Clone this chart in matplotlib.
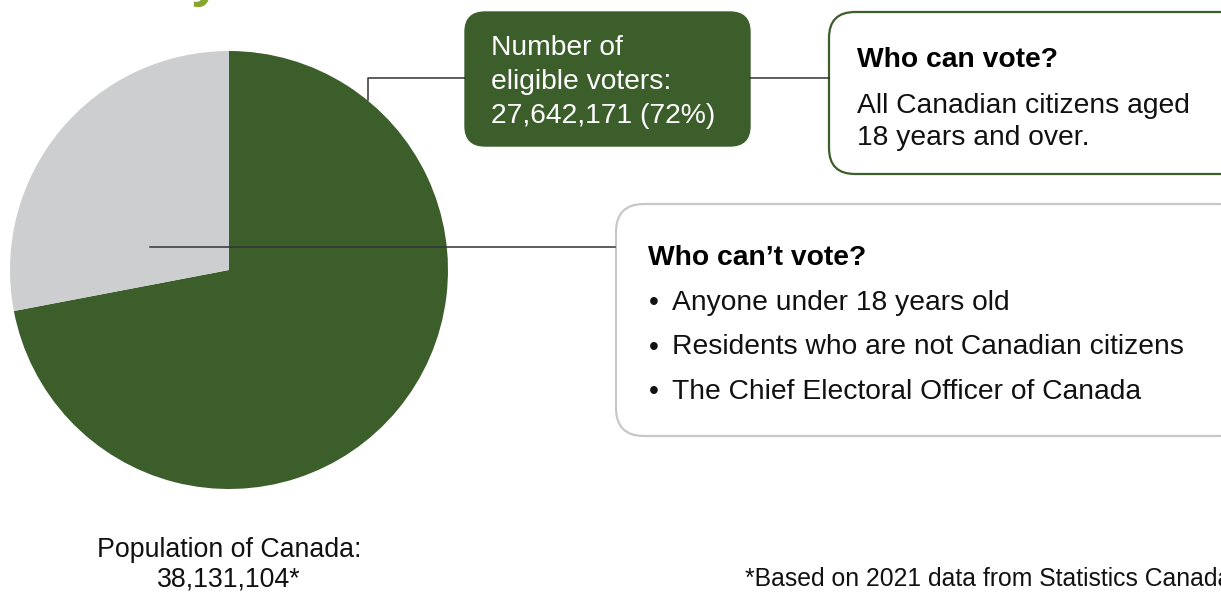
import matplotlib.pyplot as plt
from matplotlib.patches import FancyBboxPatch

plt.rcParams['font.family'] = ['Liberation Sans', 'DejaVu Sans']

# data
population = 38131104
eligible_voters = 27642171
eligible_pct = 72
pie_values = [eligible_pct, 100 - eligible_pct]
pie_colors = ['#3b5e2b', '#cdcecf']

eligible_lines = ['Number of', 'eligible voters:', '27,642,171 (72%)']
can_vote_title = 'Who can vote?'
can_vote_lines = ['All Canadian citizens aged', '18 years and over.']
cant_vote_title = 'Who can\u2019t vote?'
cant_vote_items = ['Anyone under 18 years old',
                   'Residents who are not Canadian citizens',
                   'The Chief Electoral Officer of Canada']
population_lines = ['Population of Canada:', '38,131,104*']
footnote = '*Based on 2021 data from Statistics Canada'

W, H = 1221, 592
DARK = '#3b5e2b'
FS = 20.3

fig = plt.figure(figsize=(W / 100, H / 100), dpi=100)
ax = fig.add_axes([0, 0, 1, 1])


def Y(y):
    # pixel row (from top) -> data y
    return H - y


ax.pie(pie_values, colors=pie_colors, startangle=90, counterclock=False,
       center=(229, Y(270)), radius=219, wedgeprops=dict(linewidth=0))
ax.set_xlim(0, W)
ax.set_ylim(0, H)
ax.axis('off')

# cut-off heading letter at the very top
ax.text(206, Y(-5), 'y', color='#86a62e', fontsize=40, fontweight='bold',
        ha='center', va='baseline')

# connector lines
lc = '#333333'
ax.plot([150, 615], [Y(247), Y(247)], color=lc, lw=1.1, zorder=3)
ax.plot([368, 368, 465], [Y(100), Y(78), Y(78)], color=lc, lw=1.1, zorder=3)
ax.plot([750, 829], [Y(78), Y(78)], color=lc, lw=1.1, zorder=3)

# green box
ax.add_patch(FancyBboxPatch((465, Y(146)), 285, 134,
                            boxstyle='round,pad=0,rounding_size=20',
                            fc=DARK, ec=DARK, lw=1, zorder=2))
for i, s in enumerate(eligible_lines):
    ax.text(491, Y(55 + 34 * i), s, color='white', fontsize=FS,
            ha='left', va='baseline', zorder=4)

# who can vote box
ax.add_patch(FancyBboxPatch((829, Y(174)), 420, 162,
                            boxstyle='round,pad=0,rounding_size=26',
                            fc='white', ec=DARK, lw=1.6, zorder=2))
ax.text(857, Y(67), can_vote_title, color='black', fontsize=FS,
        fontweight='bold', ha='left', va='baseline', zorder=4)
for i, s in enumerate(can_vote_lines):
    ax.text(857, Y(113 + 32 * i), s, color='#111111', fontsize=FS,
            ha='left', va='baseline', zorder=4)

# who can't vote box
ax.add_patch(FancyBboxPatch((616, Y(436)), 630, 232,
                            boxstyle='round,pad=0,rounding_size=28',
                            fc='white', ec='#c8c8c8', lw=1.6, zorder=2))
ax.text(648, Y(265), cant_vote_title, color='black', fontsize=FS,
        fontweight='bold', ha='left', va='baseline', zorder=4)
for i, s in enumerate(cant_vote_items):
    yb = Y(310 + 44.5 * i)
    ax.text(649, yb, '\u2022', color='#111111', fontsize=FS,
            ha='left', va='baseline', zorder=4)
    ax.text(672, yb, s, color='#111111', fontsize=FS,
            ha='left', va='baseline', zorder=4)

# bottom captions
for i, s in enumerate(population_lines):
    ax.text(229, Y(557 + 29 * i), s, color='#111111', fontsize=19.3,
            ha='center', va='baseline')
ax.text(745, Y(586), footnote, color='#111111', fontsize=17.8,
        ha='left', va='baseline')

fig.savefig('out.png', dpi=100)
